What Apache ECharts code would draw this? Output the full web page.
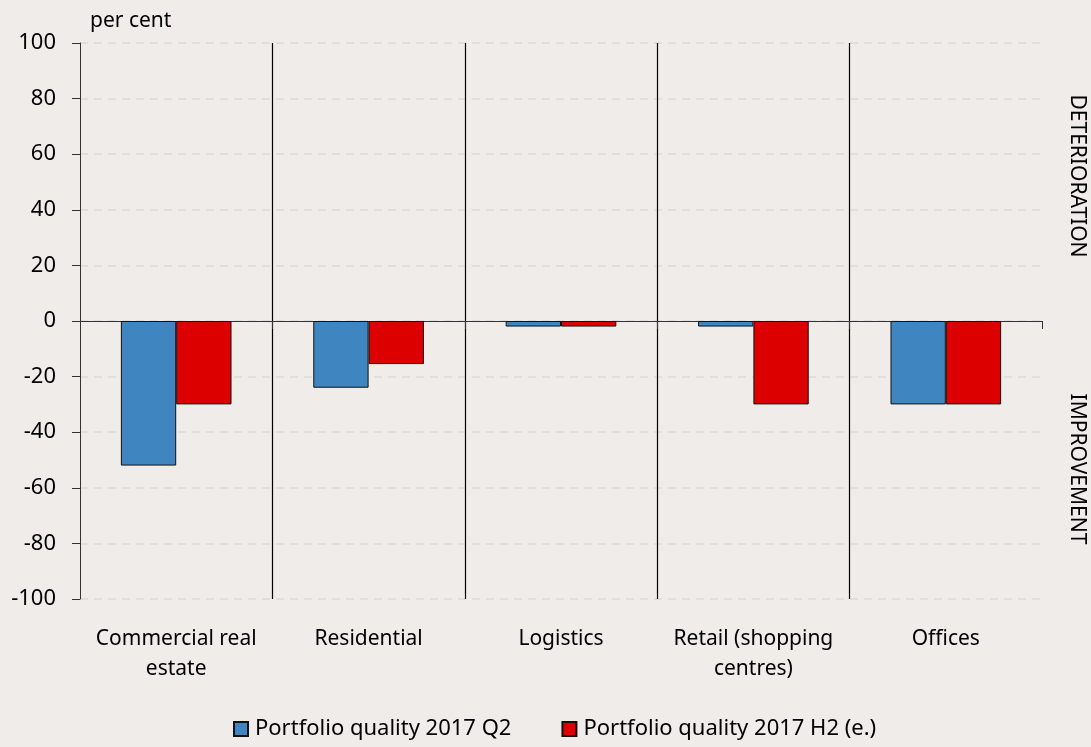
<!DOCTYPE html>
<html>
<head>
<meta charset="utf-8">
<script src="https://cdn.jsdelivr.net/npm/echarts@6/dist/echarts.min.js"></script>
<style>
  html, body { margin: 0; padding: 0; background: #efece9; }
  #chart { width: 1091px; height: 747px; }
</style>
</head>
<body>
<div id="chart"></div>
<script>
  // data
  const categories = ['Commercial real estate', 'Residential', 'Logistics', 'Retail (shopping centres)', 'Offices']
  const tickLabels = ['Commercial real\nestate', 'Residential', 'Logistics', 'Retail (shopping\ncentres)', 'Offices']
  const q2 = [-52, -24, -2, -2, -30]
  const h2 = [-30, -15.5, -2, -30, -30]
  const seriesNames = ['Portfolio quality 2017 Q2', 'Portfolio quality 2017 H2 (e.)']

  const font = 'Noto Sans'
  let myChart = echarts.init(document.getElementById('chart'))

  let option = {
    backgroundColor: '#efece9',
    animation: false,
    textStyle: { fontFamily: font },
    grid: { left: 80, right: 49, top: 43, bottom: 148 },
    legend: {
      bottom: 2,
      left: 228,
      itemWidth: 14,
      itemHeight: 14,
      itemGap: 50,
      icon: 'rect',
      textStyle: { fontSize: 22, color: '#000', fontFamily: font, padding: [0, 0, 0, 2] },
      data: seriesNames
    },
    graphic: [
      { type: 'text', left: 90, top: 11, style: { text: 'per cent', fontSize: 21, fill: '#000', fontFamily: font } },
      { type: 'text', x: 1077, y: 176, rotation: -Math.PI / 2,
        style: { text: 'DETERIORATION', fontSize: 21, fill: '#000', fontFamily: font, align: 'center', verticalAlign: 'middle' } },
      { type: 'text', x: 1077, y: 469, rotation: -Math.PI / 2,
        style: { text: 'IMPROVEMENT', fontSize: 21, fill: '#000', fontFamily: font, align: 'center', verticalAlign: 'middle' } }
    ],
    xAxis: [
      {
        type: 'category',
        data: categories,
        axisLine: { onZero: true, lineStyle: { color: '#333', width: 1 } },
        axisTick: { show: true, length: 8, lineStyle: { color: '#333' } },
        axisLabel: { show: false },
        splitLine: { show: true, showMinLine: false, showMaxLine: false, lineStyle: { color: '#000', width: 1.2 } }
      },
      {
        type: 'category',
        data: categories,
        position: 'bottom',
        axisLine: { show: false, onZero: false },
        axisTick: { show: false },
        splitLine: { show: false },
        axisLabel: {
          interval: 0,
          margin: 25,
          fontSize: 21,
          lineHeight: 30,
          color: '#000',
          fontFamily: font,
          formatter: (v, i) => tickLabels[i]
        }
      }
    ],
    yAxis: {
      type: 'value',
      min: -100,
      max: 100,
      interval: 20,
      axisLine: { show: true, lineStyle: { color: '#333' } },
      axisTick: { show: true, length: 8, lineStyle: { color: '#333' } },
      axisLabel: { fontSize: 22, color: '#000', margin: 24, fontFamily: font },
      splitLine: { show: true, lineStyle: { color: '#dcdad7', type: [8, 6], width: 1.5 } }
    },
    series: [
      {
        name: seriesNames[0],
        type: 'bar',
        xAxisIndex: 0,
        data: q2,
        barGap: '0%',
        barCategoryGap: '42.5%',
        itemStyle: { color: '#3f86c0', borderColor: '#111', borderWidth: 1 }
      },
      {
        name: seriesNames[1],
        type: 'bar',
        xAxisIndex: 0,
        data: h2,
        barGap: '0%',
        barCategoryGap: '42.5%',
        itemStyle: { color: '#dd0000', borderColor: '#111', borderWidth: 1 }
      }
    ]
  }

  myChart.setOption(option)
</script>
</body>
</html>
